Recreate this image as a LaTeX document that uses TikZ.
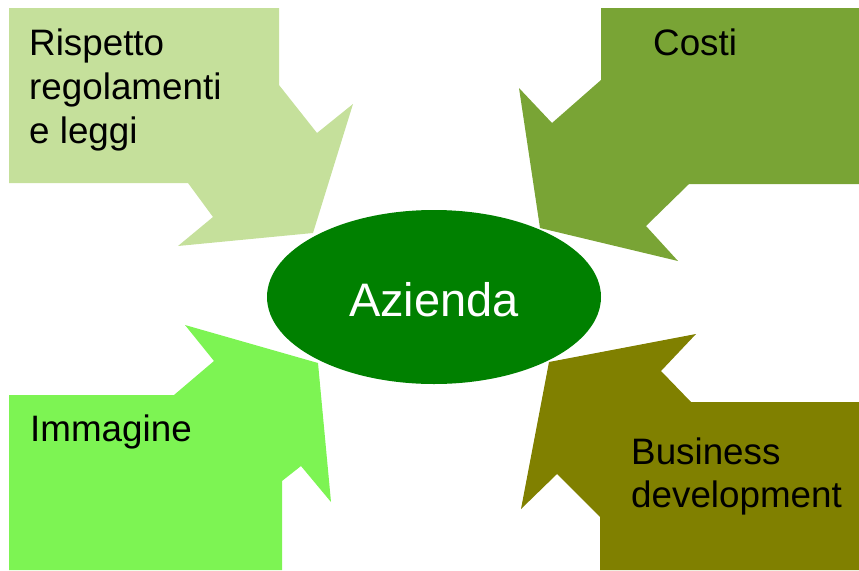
\documentclass[tikz,border=0pt]{standalone}
\usepackage{fontspec}
\setmainfont{Liberation Sans}
\usepackage{xcolor}
\definecolor{azgreen}{HTML}{008000}
\definecolor{azlight}{HTML}{C5E09B}
\definecolor{azmid}{HTML}{79A435}
\definecolor{azbright}{HTML}{7DF453}
\definecolor{azolive}{HTML}{808000}
\usepackage{tikz}
\usetikzlibrary{
  positioning,
  shapes.geometric,
}

\begin{document}
\begin{tikzpicture}[
  x=1pt, y=-1pt,
  boxtext/.style={
    anchor=base west, inner sep=0pt, align=left,
    font=\fontsize{36.8}{44}\selectfont, text=black,
  },
  core/.style={
    ellipse, fill=azgreen, minimum width=334pt, minimum height=174pt,
    inner sep=0pt, text=white, font=\fontsize{47}{56}\selectfont,
  },
]
  \useasboundingbox (0,0) rectangle (859,570);

  % Centre
  \node[core] (azienda) at (434,297) {};
  \node[anchor=base, text=white, font=\fontsize{47}{56}\selectfont, inner sep=0pt]
    (aziendatxt) at (434,316) {Azienda};

  % Callouts
  \fill[azlight] (9,8) -- (279,8) -- (279,85) -- (317,133) -- (353,104)
    -- (313,233) -- (178,246) -- (213,217) -- (188,183) -- (9,183) -- cycle;
  \fill[azmid] (601,8) -- (859,8) -- (859,184) -- (689,184) -- (646,226)
    -- (678,261) -- (540,228) -- (519,88) -- (552,123) -- (601,80) -- cycle;
  \fill[azbright] (9,395) -- (174,395) -- (214,361) -- (185,325) -- (318,363)
    -- (331,502) -- (301,466) -- (282,481) -- (282,570) -- (9,570) -- cycle;
  \fill[azolive] (600,570) -- (600,517) -- (557,474) -- (521,509) -- (549,362)
    -- (696,334) -- (661,371) -- (691,402) -- (859,402) -- (859,570) -- cycle;

  % Labels (base = last line)
  \node[boxtext] (rispetto) at (29,143) {Rispetto\\regolamenti\\e leggi};
  \node[boxtext] (costi) at (653,55) {Costi};
  \node[boxtext] (immagine) at (30,441) {Immagine};
  \node[boxtext, font=\fontsize{36.8}{43}\selectfont] (business) at (631,507)
    {Business\\development};
\end{tikzpicture}
\end{document}
